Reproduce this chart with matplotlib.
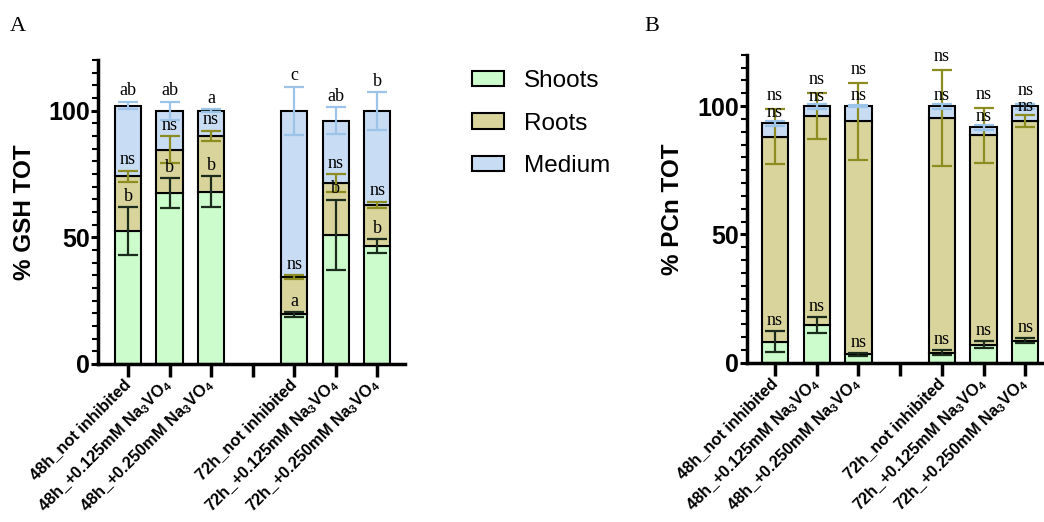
import matplotlib.pyplot as plt
import numpy as np

plt.rcParams['font.family'] = ['Liberation Sans', 'DejaVu Sans']
plt.rcParams['mathtext.default'] = 'regular'

# x positions: a gap is left between the 48h and 72h groups
pos = [0, 1, 2, 4, 5, 6]
tick_labels = ['48h_not inhibited', '48h_+0.125mM Na$_3$VO$_4$', '48h_+0.250mM Na$_3$VO$_4$', '',
               '72h_not inhibited', '72h_+0.125mM Na$_3$VO$_4$', '72h_+0.250mM Na$_3$VO$_4$']

# panel A: % GSH TOT (stacked segments)
gsh_shoots = [52.5, 67.5, 68.0, 19.5, 51.0, 46.6]
gsh_shoots_err = [9.5, 5.8, 6.0, 1.0, 13.8, 2.7]
gsh_roots = [21.5, 17.1, 22.1, 14.9, 20.5, 16.2]
gsh_roots_err = [2.3, 5.3, 2.0, 0.7, 3.5, 1.3]
gsh_medium = [28.0, 15.4, 9.9, 65.6, 24.5, 37.0]
gsh_medium_err = [1.5, 3.5, 0.5, 9.5, 5.3, 7.5]
gsh_shoots_lab = ['b', 'b', 'b', 'a', 'b', 'b']
gsh_roots_lab = ['ns', 'ns', 'ns', 'ns', 'ns', 'ns']
gsh_medium_lab = ['ab', 'ab', 'a', 'c', 'ab', 'b']

# panel B: % PCn TOT
pcn_shoots = [8.2, 14.8, 3.3, 3.9, 7.0, 8.6]
pcn_shoots_err = [4.1, 3.0, 0.5, 1.0, 1.3, 1.0]
pcn_roots = [79.8, 81.3, 90.8, 91.4, 81.7, 85.5]
pcn_roots_err = [10.7, 9.0, 15.0, 18.7, 10.7, 2.4]
pcn_medium = [5.4, 3.9, 5.9, 4.7, 3.1, 5.9]
pcn_medium_err = [1.0, 1.0, 0.5, 1.0, 1.0, 1.0]
pcn_lab = ['ns'] * 6

c_shoots = '#ccfccc'
c_roots = '#d8d49c'
c_medium = '#c8dcf4'
e_shoots = '#1c2c1c'
e_roots = '#8c8c20'
e_medium = '#9cc4e8'
serif = ['Liberation Serif', 'DejaVu Serif']


def stacked(ax, shoots, s_err, roots, r_err, medium, m_err, xlim, ylabel):
    shoots = np.array(shoots)
    roots_top = shoots + np.array(roots)
    total = roots_top + np.array(medium)
    w = 0.63
    ax.bar(pos, shoots, w, color=c_shoots, edgecolor='black', linewidth=1.5, label='Shoots', zorder=2)
    ax.bar(pos, roots, w, bottom=shoots, color=c_roots, edgecolor='black', linewidth=1.5, label='Roots', zorder=2)
    ax.bar(pos, medium, w, bottom=roots_top, color=c_medium, edgecolor='black', linewidth=1.5, label='Medium', zorder=2)
    for top, err, col in [(shoots, s_err, e_shoots), (roots_top, r_err, e_roots), (total, m_err, e_medium)]:
        ax.errorbar(pos, top, yerr=err, fmt='none', ecolor=col, elinewidth=1.6,
                    capsize=7, capthick=1.6, zorder=3)
    ax.set_xlim(*xlim)
    ax.set_ylim(0, 120)
    ax.set_yticks([0, 50, 100])
    ax.set_yticks(np.arange(0, 121, 5), minor=True)
    ax.set_xticks(range(7))
    ax.set_xticklabels(tick_labels, rotation=45, ha='right', va='center',
                       rotation_mode='anchor', fontsize=11.8, fontweight='bold')
    for lab in ax.get_yticklabels():
        lab.set_fontweight('bold')
    ax.tick_params(axis='y', which='major', length=5, width=2.2, labelsize=18, pad=1)
    ax.tick_params(axis='y', which='minor', length=4, width=1.5)
    ax.tick_params(axis='x', which='major', length=9, width=2.5, pad=4)
    for s in ['top', 'right']:
        ax.spines[s].set_visible(False)
    for s in ['left', 'bottom']:
        ax.spines[s].set_linewidth(2.5)
    ax.set_ylabel(ylabel, fontsize=17.5, fontweight='bold', labelpad=9)
    return shoots, roots_top, total


fig = plt.figure(figsize=(10.44, 5.22), dpi=100)

axA = fig.add_axes([0.094, 0.303, 0.294, 0.582])
sA, rA, tA = stacked(axA, gsh_shoots, gsh_shoots_err, gsh_roots, gsh_roots_err,
                     gsh_medium, gsh_medium_err, (-0.72, 6.67), '% GSH TOT')
for i, x in enumerate(pos):
    axA.text(x, sA[i] + gsh_shoots_err[i] + 2.5, gsh_shoots_lab[i], ha='center', va='baseline', fontsize=13, family=serif)
    axA.text(x, rA[i] + gsh_roots_err[i] + 2.5, gsh_roots_lab[i], ha='center', va='baseline', fontsize=13, family=serif)
    axA.text(x, tA[i] + gsh_medium_err[i] + 2.5, gsh_medium_lab[i], ha='center', va='baseline', fontsize=13, family=serif)

axB = fig.add_axes([0.7155, 0.305, 0.2845, 0.59])
sB, rB, tB = stacked(axB, pcn_shoots, pcn_shoots_err, pcn_roots, pcn_roots_err,
                     pcn_medium, pcn_medium_err, (-0.67, 6.45), '% PCn TOT')
for i, x in enumerate(pos):
    axB.text(x, sB[i] + pcn_shoots_err[i] + 2.5, pcn_lab[i], ha='center', va='baseline', fontsize=13, family=serif)
    top_y = max(tB[i] + pcn_medium_err[i], rB[i] + pcn_roots_err[i]) + 3.5
    mid_y = min(tB[i] + 2.5, top_y - 6.5)
    axB.text(x, mid_y, pcn_lab[i], ha='center', va='baseline', fontsize=13, family=serif)
    axB.text(x, top_y, pcn_lab[i], ha='center', va='baseline', fontsize=13, family=serif)

handles, labels = axA.get_legend_handles_labels()
fig.legend(handles, labels, loc='upper left', bbox_to_anchor=(472 / 1044, 1 - 70 / 522),
           frameon=False, fontsize=17.5, handlelength=1.3, handleheight=0.6,
           handletextpad=0.85, labelspacing=0.85, borderaxespad=0, borderpad=0)

fig.text(10 / 1044, 1 - 17 / 522, 'A', ha='left', va='top', fontsize=16, family=serif)
fig.text(644 / 1044, 1 - 17 / 522, 'B', ha='left', va='top', fontsize=16, family=serif)

fig.savefig('out.png', dpi=100)
